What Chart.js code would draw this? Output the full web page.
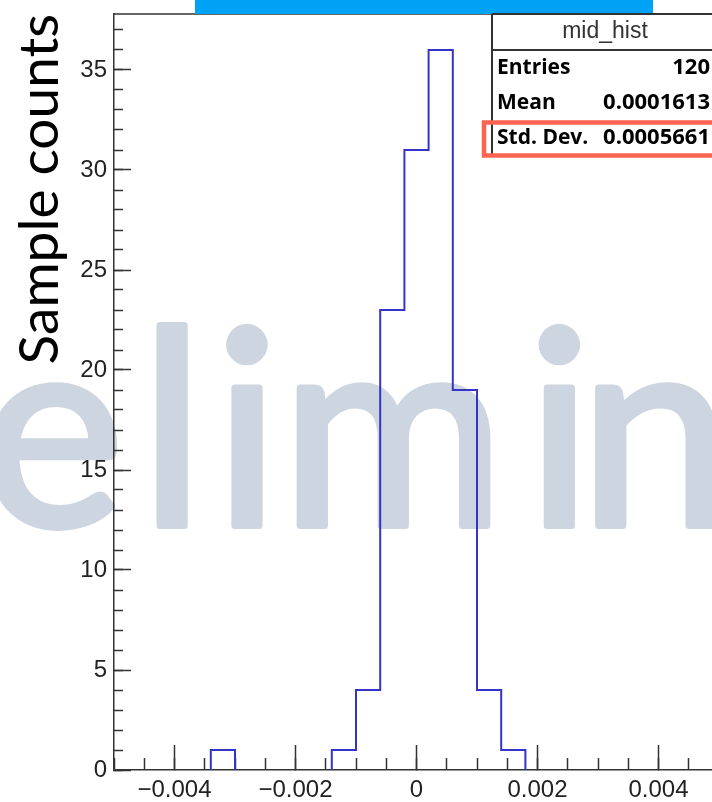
<!DOCTYPE html>
<html>
<head>
<meta charset="utf-8">
<script src="https://cdn.jsdelivr.net/npm/chart.js@4"></script>
<style>
  html, body { margin: 0; padding: 0; background: #fff; overflow: hidden; }
  #wrap { width: 712px; height: 802px; overflow: hidden; }
</style>
</head>
<body>
<div id="wrap"><canvas id="c" width="740" height="802"></canvas></div>
<script>
// histogram: bin edges and entries per bin
const binEdges = [-0.0034, -0.0030, -0.0026, -0.0022, -0.0018, -0.0014, -0.0010,
                  -0.0006, -0.0002, 0.0002, 0.0006, 0.0010, 0.0014, 0.0018];
const binCounts = [1, 0, 0, 0, 0, 1, 4, 23, 31, 36, 19, 4, 1];

const xMajorTicks = [-0.004, -0.002, 0, 0.002, 0.004];
const xTickLabels = ['\u22120.004', '\u22120.002', '0', '0.002', '0.004'];

const statsTitle = 'mid_hist';
const statsLabels = ['Entries', 'Mean', 'Std. Dev.'];
const statsValues = ['120', '0.0001613', '0.0005661'];

const BLUE = '#3434c8';
const AXIS = '#333';

// outline points of the step histogram
const histPoints = [{ x: binEdges[0], y: 0 }];
binCounts.forEach((n, i) => {
  histPoints.push({ x: binEdges[i], y: n }, { x: binEdges[i + 1], y: n });
});
histPoints.push({ x: binEdges[binEdges.length - 1], y: 0 });

// fixed box sizes, no extra label padding from the layout
const fixSize = (w, h) => s => {
  if (w !== null) s.width = w;
  if (h !== null) s.height = h;
  s.paddingTop = s.paddingBottom = s.paddingLeft = s.paddingRight = 0;
};

// visible part of the "Preliminary" watermark: letter and left ink edge
const wmLetters = [['l', 153.5], ['i', 223.6], ['m', 294.5], ['i', 536], ['n', 593]];

const decor = {
  id: 'decor',
  beforeDraw(chart) {
    const ctx = chart.ctx;
    ctx.save();
    ctx.font = '100px Lato';
    const a100 = ctx.measureText('l').actualBoundingBoxAscent;
    ctx.font = (201 / a100 * 100) + 'px Lato';
    ctx.fillStyle = '#cdd5e0';
    ctx.strokeStyle = '#cdd5e0';
    ctx.lineWidth = 7;
    ctx.lineJoin = 'round';
    ctx.textBaseline = 'alphabetic';
    const base = 525.5;
    const draw = (ch, x) => { ctx.fillText(ch, x, base); ctx.strokeText(ch, x, base); };
    // the 'e' is cut by the left edge, place it by its right side
    draw('e', 120 - 3.5 - ctx.measureText('e').actualBoundingBoxRight);
    wmLetters.forEach(([ch, left]) => {
      draw(ch, left + 3.5 + ctx.measureText(ch).actualBoundingBoxLeft);
    });
    ctx.restore();
  },
  afterDraw(chart) {
    const ctx = chart.ctx;
    const a = chart.chartArea;
    ctx.save();
    // top of the frame
    ctx.strokeStyle = AXIS;
    ctx.lineWidth = 1.5;
    ctx.beginPath();
    ctx.moveTo(a.left, a.top);
    ctx.lineTo(a.right, a.top);
    ctx.stroke();

    // blue banner above the frame
    ctx.fillStyle = '#00a2f5';
    ctx.fillRect(195, 0, 458, 14);

    // stats box
    const bx = 492, by = 14, bb = 155;
    ctx.fillStyle = '#fff';
    ctx.fillRect(bx, by, 260, bb - by);
    ctx.strokeStyle = AXIS;
    ctx.lineWidth = 2;
    ctx.beginPath();
    ctx.moveTo(bx, by); ctx.lineTo(bx, bb); ctx.lineTo(bx + 260, bb);
    ctx.moveTo(bx, by); ctx.lineTo(bx + 260, by);
    ctx.moveTo(bx, 50); ctx.lineTo(bx + 260, 50);
    ctx.stroke();

    ctx.fillStyle = '#333';
    ctx.font = '23px "Liberation Sans"';
    ctx.textAlign = 'center';
    ctx.textBaseline = 'middle';
    ctx.fillText(statsTitle, 605, 32);

    ctx.fillStyle = '#000';
    ctx.textBaseline = 'alphabetic';
    const rows = [74, 109, 144];
    statsLabels.forEach((lab, i) => {
      ctx.font = 'bold 21px "Open Sans"';
      ctx.textAlign = 'left';
      ctx.fillText(lab, 497, rows[i]);
      ctx.font = 'bold 22px "Open Sans"';
      ctx.textAlign = 'right';
      ctx.fillText(statsValues[i], 710, rows[i]);
    });

    // highlight around the Std. Dev. row
    ctx.strokeStyle = '#fa6450';
    ctx.lineWidth = 4.5;
    ctx.strokeRect(484, 122.5, 300, 33);
    ctx.restore();
  }
};

const tickFont = { family: '"Liberation Sans"', size: 24 };

new Chart(document.getElementById('c'), {
  type: 'scatter',
  data: {
    datasets: [{
      data: histPoints,
      showLine: true,
      borderColor: BLUE,
      borderWidth: 2,
      pointRadius: 0,
      pointHoverRadius: 0,
      fill: false,
      tension: 0,
      segment: {
        borderColor: c => (c.p0.parsed.y === 0 && c.p1.parsed.y === 0) ? 'rgba(0,0,0,0)' : BLUE
      }
    }]
  },
  options: {
    responsive: false,
    animation: false,
    events: [],
    layout: { padding: { top: 14, right: 21, left: 0, bottom: 0 } },
    plugins: { legend: { display: false }, tooltip: { enabled: false } },
    scales: {
      x: {
        type: 'linear', position: 'bottom', min: -0.005, max: 0.005, weight: 1,
        afterBuildTicks: s => { s.ticks = xMajorTicks.map(v => ({ value: v })); },
        afterFit: fixSize(null, 32),
        grid: { drawOnChartArea: false, tickLength: -25, tickColor: AXIS, tickWidth: 1.5 },
        border: { color: AXIS, width: 1.5 },
        ticks: {
          padding: 31, font: tickFont, color: '#222', maxRotation: 0, autoSkip: false,
          callback: (v, i) => xTickLabels[i]
        }
      },
      xMinor: {
        type: 'linear', axis: 'x', position: 'bottom', min: -0.005, max: 0.005, weight: 0,
        afterFit: fixSize(null, 0),
        grid: { drawOnChartArea: false, tickLength: -12, tickColor: AXIS, tickWidth: 1.5 },
        border: { display: false },
        ticks: { display: false, stepSize: 0.0005, autoSkip: false }
      },
      y: {
        type: 'linear', position: 'left', min: 0, max: 37.8, weight: 1,
        afterFit: fixSize(114, null),
        grid: { drawOnChartArea: false, tickLength: -17, tickColor: AXIS, tickWidth: 1.5 },
        border: { color: AXIS, width: 1.5 },
        ticks: { stepSize: 5, includeBounds: false, padding: 24, font: tickFont, color: '#222' },
        title: {
          display: true, text: 'Sample counts', align: 'end', color: '#000',
          font: { family: 'Lato', size: 55 }, padding: { top: 7, bottom: 0 }
        }
      },
      yMinor: {
        type: 'linear', axis: 'y', position: 'left', min: 0, max: 37.8, weight: 0,
        afterFit: fixSize(0, null),
        grid: { drawOnChartArea: false, tickLength: -9, tickColor: AXIS, tickWidth: 1.5 },
        border: { display: false },
        ticks: { display: false, stepSize: 1, includeBounds: false, autoSkip: false }
      }
    }
  },
  plugins: [decor]
});
</script>
</body>
</html>
